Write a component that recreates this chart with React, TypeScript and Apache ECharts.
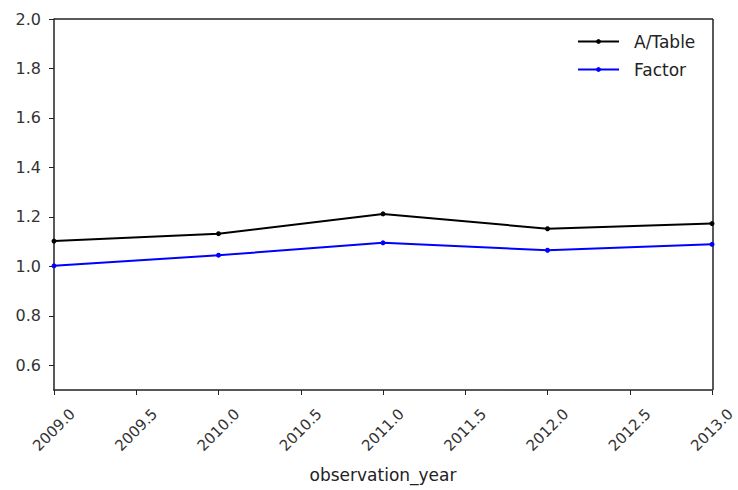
import React, { useEffect, useRef } from "react";
import * as echarts from "echarts";

const years = [2009, 2010, 2011, 2012, 2013];
const aTable = [1.102, 1.132, 1.212, 1.152, 1.173];
const factor = [1.002, 1.045, 1.095, 1.065, 1.089];
const seriesNames = ["A/Table", "Factor"];
const xAxisName = "observation_year";
const yTicks = [0.6, 0.8, 1.0, 1.2, 1.4, 1.6, 1.8, 2.0];

const FONT = "DejaVu Sans";

export default function App() {
  const ref = useRef<HTMLDivElement>(null);

  useEffect(() => {
    if (!ref.current) return;
    const chart = echarts.init(ref.current, undefined, { renderer: "svg" });
    const pair = (vals: number[]) => years.map((y, i) => [y, vals[i]]);
    chart.setOption({
      animation: false,
      backgroundColor: "#ffffff",
      grid: { left: 54, right: 25, top: 19, bottom: 100 },
      legend: {
        left: 577,
        top: 33,
        padding: 0,
        orient: "vertical",
        itemWidth: 41,
        itemHeight: 6,
        itemGap: 11,
        textStyle: {
          fontFamily: FONT,
          fontSize: 17,
          color: "#222",
          padding: [0, 0, 0, 10],
        },
        data: seriesNames,
      },
      xAxis: {
        type: "value",
        min: 2009,
        max: 2013,
        interval: 0.5,
        name: xAxisName,
        nameLocation: "middle",
        nameGap: 76,
        nameTextStyle: { fontFamily: FONT, fontSize: 17, color: "#222" },
        splitLine: { show: false },
        axisLine: { lineStyle: { color: "#222", width: 1.5 } },
        axisTick: { show: true, length: 5, lineStyle: { color: "#222" } },
        axisLabel: {
          rotate: 45,
          align: "center",
          verticalAlign: "middle",
          fontFamily: FONT,
          fontSize: 15,
          color: "#333",
          margin: 40,
          formatter: (v: number) => v.toFixed(1),
        },
      },
      yAxis: {
        type: "value",
        min: 0.5,
        max: 2.0,
        splitLine: { show: false },
        axisLine: { show: true, lineStyle: { color: "#222", width: 1.5 } },
        axisTick: {
          show: true,
          length: 5,
          lineStyle: { color: "#222" },
          customValues: yTicks,
        },
        axisLabel: {
          fontFamily: FONT,
          fontSize: 16,
          color: "#333",
          margin: 13,
          customValues: yTicks,
          formatter: (v: number) => v.toFixed(1),
        },
      },
      series: [
        {
          name: seriesNames[0],
          type: "line",
          data: pair(aTable),
          symbol: "circle",
          symbolSize: 5,
          lineStyle: { color: "#000000", width: 2 },
          itemStyle: { color: "#000000" },
        },
        {
          name: seriesNames[1],
          type: "line",
          data: pair(factor),
          symbol: "circle",
          symbolSize: 5,
          lineStyle: { color: "#0000ff", width: 2 },
          itemStyle: { color: "#0000ff" },
        },
      ],
      graphic: [
        {
          type: "line",
          shape: { x1: 54, y1: 19, x2: 713, y2: 19 },
          style: { stroke: "#222", lineWidth: 1.5 },
        },
        {
          type: "line",
          shape: { x1: 713, y1: 19, x2: 713, y2: 390 },
          style: { stroke: "#222", lineWidth: 1.5 },
        },
      ],
    });
    return () => chart.dispose();
  }, []);

  return <div ref={ref} style={{ width: 738, height: 490, position: "absolute", left: 0, top: 0 }} />;
}
